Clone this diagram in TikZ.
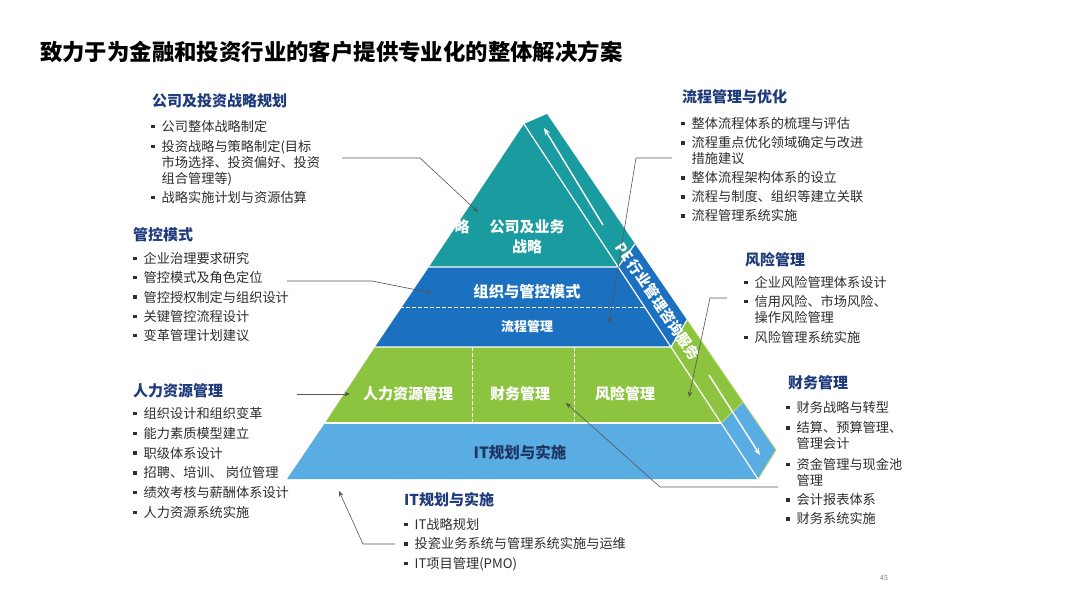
\documentclass[tikz,border=0pt]{standalone}
\usepackage{fontspec}
\setmainfont{Noto Sans CJK SC}
\usetikzlibrary{arrows.meta}
\definecolor{tealc}{HTML}{1A9BA0}
\definecolor{bluec}{HTML}{1B70C0}
\definecolor{greenc}{HTML}{8CC43F}
\definecolor{lbluec}{HTML}{5AADE2}
\definecolor{headc}{HTML}{1F3B7C}
\definecolor{itemc}{HTML}{2E2E2E}
\definecolor{itc}{HTML}{1F3561}
\definecolor{connc}{HTML}{555555}
\definecolor{edgec}{HTML}{B5D96A}
\newcommand\bl{\makebox[10.5pt][l]{\rule[3.3pt]{3.4pt}{3.4pt}}}
\newcommand\cl{\hspace*{10.5pt}}
\begin{document}
\begin{tikzpicture}[x=1pt,y=-1pt,
  head/.style={anchor=west,inner sep=0pt,font=\fontsize{15}{18}\selectfont\bfseries,text=headc},
  listbox/.style={anchor=north west,inner sep=0pt,align=left,font=\fontsize{13.2}{16}\selectfont,text=itemc},
  bandtxt/.style={inner sep=0pt,font=\fontsize{15}{18}\selectfont\bfseries,text=white},
  conn/.style={draw=connc,line width=0.6pt,-{Stealth[length=5.5pt,width=4.5pt]}},
  wline/.style={draw=white,line width=1.2pt},
  wdash/.style={draw=white,line width=1pt,dash pattern=on 3.5pt off 2.5pt},
  stripar/.style={draw=white,line width=1.4pt,-{Stealth[length=7pt,width=5.5pt]}}]
\useasboundingbox (0,0) rectangle (1080,608);
\fill[white] (0,0) rectangle (1080,608);

% title
\node[anchor=west,inner sep=0pt,font=\fontsize{22.4}{26}\selectfont\bfseries,text=black] (title) at (40,52) {致力于为金融和投资行业的客户提供专业化的整体解决方案};

% pyramid coordinates
\coordinate (A) at (524,124);
\coordinate (O0) at (547,114);
\coordinate (L1) at (429,267); \coordinate (R1) at (618,267); \coordinate (O1) at (635,244);
\coordinate (L2) at (375,347); \coordinate (R2) at (671,347); \coordinate (O2) at (687,320);
\coordinate (L3) at (325,423); \coordinate (R3) at (721,423); \coordinate (O3) at (743,402);
\coordinate (L4) at (287,479); \coordinate (R4) at (758,479); \coordinate (O4) at (776,450);

% front bands
\fill[tealc] (A) -- (R1) -- (L1) -- cycle;
\fill[bluec] (L1) -- (R1) -- (R2) -- (L2) -- cycle;
\fill[greenc] (L2) -- (R2) -- (R3) -- (L3) -- cycle;
\fill[lbluec] (L3) -- (R3) -- (R4) -- (L4) -- cycle;
% side strip
\fill[tealc] (A) -- (O0) -- (O1) -- (R1) -- cycle;
\fill[bluec] (R1) -- (O1) -- (O2) -- (R2) -- cycle;
\fill[greenc] (R2) -- (O2) -- (O3) -- (R3) -- cycle;
\fill[lbluec] (R3) -- (O3) -- (O4) -- (R4) -- cycle;
\draw[edgec,line width=0.8pt] (O2) -- (O3) -- (O4) -- (R4);
% white separators
\draw[wline] (L1) -- (R1) -- (O1);
\draw[wline] (L2) -- (R2) -- (O2);
\draw[wline] (L3) -- (R3);
\draw[draw=edgec,line width=1pt] (R3) -- (O3);
\draw[wline] (A) -- (R4);
\draw[wdash] (400,307) -- (645,307);
\draw[wdash] (472,347) -- (472,423);
\draw[wdash] (574,347) -- (574,423);

% strip arrows and text
\coordinate (ua1) at (603,225); \coordinate (ua2) at (544,128);
\coordinate (da1) at (709,375); \coordinate (da2) at (760,455);
\draw[stripar] (ua1) -- (ua2);
\draw[stripar] (da1) -- (da2);
\node[rotate=-56,inner sep=0pt,font=\fontsize{14.5}{16}\selectfont\bfseries,text=white] (pe) at (658,301) {PE\,行业管理咨询服务};

% band texts
\node[bandtxt] (lue) at (462,227) {略};
\node[bandtxt,align=center,font=\fontsize{15}{20}\selectfont\bfseries] (strat) at (527,237) {公司及业务\\战略};
\node[bandtxt,font=\fontsize{15.3}{18}\selectfont\bfseries] (org) at (527,292) {组织与管控模式};
\node[bandtxt,font=\fontsize{13}{16}\selectfont\bfseries] (proc) at (527,327) {流程管理};
\node[bandtxt] (hr) at (408,394) {人力资源管理};
\node[bandtxt] (fin) at (520,394) {财务管理};
\node[bandtxt] (risk) at (625,394) {风险管理};
\node[bandtxt,text=itc,font=\fontsize{15.5}{18}\selectfont\bfseries] (it) at (520,452) {IT规划与实施};

% left text blocks
\node[head] (h1) at (152,101) {公司及投资战略规划};
\node[listbox] (l1) at (151,120) {\bl 公司整体战略制定\\[4pt]
\bl 投资战略与策略制定(目标\\
\cl 市场选择、投资偏好、投资\\
\cl 组合管理等)\\[3pt]
\bl 战略实施计划与资源估算};

\node[head] (h2) at (133,235) {管控模式};
\node[listbox] (l2) at (133,252) {\bl 企业治理要求研究\\[3.3pt]
\bl 管控模式及角色定位\\[3.3pt]
\bl 管控授权制定与组织设计\\[3.3pt]
\bl 关键管控流程设计\\[3.3pt]
\bl 变革管理计划建议};

\node[head] (h3) at (133,391) {人力资源管理};
\node[listbox] (l3) at (133,407) {\bl 组织设计和组织变革\\[3.8pt]
\bl 能力素质模型建立\\[3.8pt]
\bl 职级体系设计\\[3.8pt]
\bl 招聘、培训、 岗位管理\\[3.8pt]
\bl 绩效考核与薪酬体系设计\\[3.8pt]
\bl 人力资源系统实施};

\node[head] (h4) at (404,500) {IT规划与实施};
\node[listbox] (l4) at (404,518) {\bl IT战略规划\\[3.5pt]
\bl 投瓷业务系统与管理系统实施与运维\\[3.5pt]
\bl IT项目管理(PMO)};

% right text blocks
\node[head] (h5) at (682,97) {流程管理与优化};
\node[listbox] (l5) at (681,117) {\bl 整体流程体系的梳理与评估\\[3.5pt]
\bl 流程重点优化领域确定与改进\\
\cl 措施建议\\[3pt]
\bl 整体流程架构体系的设立\\[3pt]
\bl 流程与制度、组织等建立关联\\[3pt]
\bl 流程管理系统实施};

\node[head] (h6) at (745,260) {风险管理};
\node[listbox] (l6) at (744,276) {\bl 企业风险管理体系设计\\[3pt]
\bl 信用风险、市场风险、\\
\cl 操作风险管理\\[4pt]
\bl 风险管理系统实施};

\node[head] (h7) at (788,383) {财务管理};
\node[listbox] (l7) at (786,401) {\bl 财务战略与转型\\[4.5pt]
\bl 结算、预算管理、\\
\cl 管理会计\\[4.5pt]
\bl 资金管理与现金池\\
\cl 管理\\[3.5pt]
\bl 会计报表体系\\[3pt]
\bl 财务系统实施};

\node[inner sep=0pt,font=\fontsize{7}{8}\selectfont,text=gray] (pg) at (884,578) {45};

% connectors
\coordinate (c1s) at (342,158); \coordinate (c1m) at (420,158); \coordinate (c1e) at (478,212);
\coordinate (c2s) at (287,281); \coordinate (c2m) at (372,281); \coordinate (c2e) at (432,293);
\coordinate (c3s) at (672,158); \coordinate (c3m) at (636,158); \coordinate (c3e) at (609,323);
\coordinate (c4s) at (727,298); \coordinate (c4m) at (710,298); \coordinate (c4e) at (689,397);
\coordinate (c5s) at (778,487); \coordinate (c5m) at (660,487); \coordinate (c5e) at (566,403);
\coordinate (c6s) at (297,394); \coordinate (c6e) at (350,394);
\coordinate (c7s) at (395,544); \coordinate (c7m) at (363,544); \coordinate (c7e) at (339,491);
\draw[conn] (c1s) -- (c1m) -- (c1e);
\draw[conn] (c2s) -- (c2m) -- (c2e);
\draw[conn] (c3s) -- (c3m) -- (c3e);
\draw[conn] (c4s) -- (c4m) -- (c4e);
\draw[conn] (c5s) -- (c5m) -- (c5e);
\draw[conn] (c6s) -- (c6e);
\draw[conn] (c7s) -- (c7m) -- (c7e);
\end{tikzpicture}
\end{document}
